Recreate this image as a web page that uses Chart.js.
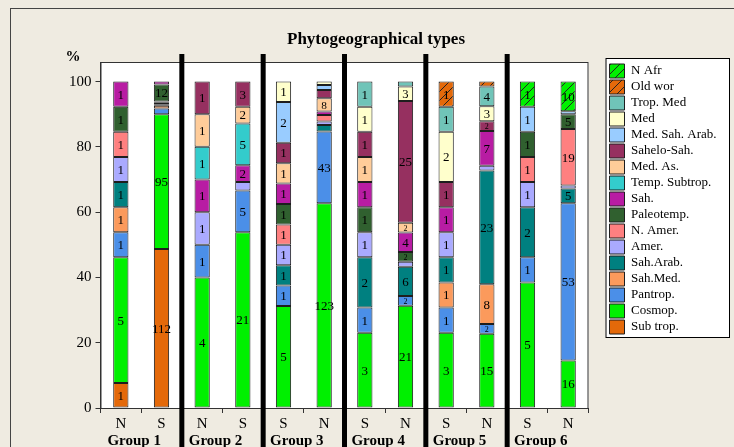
<!DOCTYPE html>
<html>
<head>
<meta charset="utf-8">
<script src="https://cdn.jsdelivr.net/npm/chart.js@4.4.0/dist/chart.umd.min.js"></script>
<style>
  html, body { margin: 0; padding: 0; background: #efebe1; }
</style>
</head>
<body>
<canvas id="myChart" width="734" height="447"></canvas>
<script>
// bar order: G1 N, G1 S, G2 N, G2 S, G3 S, G3 N, G4 S, G4 N, G5 S, G5 N, G6 S, G6 N
const barLabels = ['N', 'S', 'N', 'S', 'S', 'N', 'S', 'N', 'S', 'N', 'S', 'N'];
const groups = ['Group 1', 'Group 2', 'Group 3', 'Group 4', 'Group 5', 'Group 6'];
const yTicks = [0, 20, 40, 60, 80, 100];

// number of species per type (shown inside the segments)
const subTrop     = [1, 112, 0, 0, 0, 0, 0, 0, 0, 0, 0, 0];
const cosmop      = [5, 95, 4, 21, 5, 123, 3, 21, 3, 15, 5, 16];
const pantrop     = [1, 4, 1, 5, 1, 43, 1, 2, 1, 2, 1, 53];
const sahMed      = [1, 2, 0, 0, 0, 0, 0, 0, 1, 8, 0, 0];
const sahArab     = [1, 1, 0, 0, 1, 4, 2, 6, 1, 23, 2, 5];
const amer        = [1, 1, 1, 1, 1, 2, 1, 1, 1, 1, 1, 1];
const nAmer       = [1, 1, 0, 0, 1, 4, 0, 0, 0, 0, 1, 19];
const paleotemp   = [1, 12, 0, 0, 1, 0, 1, 2, 0, 0, 1, 5];
const sah         = [1, 2, 1, 2, 1, 2, 1, 4, 1, 7, 0, 0];
const tempSubtrop = [0, 0, 1, 5, 0, 0, 0, 0, 0, 0, 0, 0];
const medAs       = [0, 0, 1, 2, 1, 8, 1, 2, 0, 0, 0, 0];
const saheloSah   = [0, 0, 1, 3, 1, 5, 1, 25, 1, 2, 0, 0];
const medSahArab  = [0, 0, 0, 0, 2, 3, 0, 0, 0, 0, 1, 1];
const med         = [0, 0, 0, 0, 1, 2, 1, 3, 2, 3, 0, 0];
const tropMed     = [0, 0, 0, 0, 0, 0, 1, 1, 1, 4, 0, 0];
const oldWor      = [0, 0, 0, 0, 0, 0, 0, 0, 1, 1, 0, 0];
const nAfr        = [0, 0, 0, 0, 0, 0, 0, 0, 0, 0, 1, 10];

function hatch(color) {
  const c = document.createElement('canvas');
  c.width = 9; c.height = 9;
  const g = c.getContext('2d');
  g.fillStyle = color;
  g.fillRect(0, 0, 9, 9);
  g.strokeStyle = '#222';
  g.lineWidth = 1;
  g.beginPath();
  g.moveTo(0, 9); g.lineTo(9, 0);
  g.moveTo(-1, 1); g.lineTo(1, -1);
  g.moveTo(8, 10); g.lineTo(10, 8);
  g.stroke();
  return g.createPattern(c, 'repeat');
}

const series = [
  ['Sub trop.', subTrop, '#e4690a'],
  ['Cosmop.', cosmop, '#00f000'],
  ['Pantrop.', pantrop, '#4b8fe8'],
  ['Sah.Med.', sahMed, '#fb9a5c'],
  ['Sah.Arab.', sahArab, '#008080'],
  ['Amer.', amer, '#aaaaff'],
  ['N. Amer.', nAmer, '#ff8080'],
  ['Paleotemp.', paleotemp, '#30602f'],
  ['Sah.', sah, '#b81ca3'],
  ['Temp. Subtrop.', tempSubtrop, '#33cccc'],
  ['Med. As.', medAs, '#ffcc99'],
  ['Sahelo-Sah.', saheloSah, '#963060'],
  ['Med. Sah. Arab.', medSahArab, '#99ccff'],
  ['Med', med, '#ffffcc'],
  ['Trop. Med', tropMed, '#70c4b8'],
  ['Old wor', oldWor, hatch('#e4690a')],
  ['N Afr', nAfr, hatch('#00f000')]
];

const totals = barLabels.map((b, i) => series.reduce((s, d) => s + d[1][i], 0));

const serif = 'Liberation Serif';

const decor = {
  id: 'decor',
  beforeDraw(chart) {
    const {ctx, chartArea: a} = chart;
    ctx.save();
    ctx.fillStyle = '#efebe1';
    ctx.fillRect(0, 0, chart.width, chart.height);
    ctx.strokeStyle = '#444';
    ctx.lineWidth = 1;
    ctx.strokeRect(10.5, 8.5, chart.width + 20, chart.height + 20);
    ctx.fillStyle = '#fff';
    ctx.fillRect(a.left, a.top, a.right - a.left, a.bottom - a.top);
    // legend frame
    const lg = chart.legend;
    const hb = lg.legendHitBoxes;
    const last = hb[hb.length - 1];
    const fx = lg.left - 2, fy = lg.top - 4;
    const fw = 729 - fx, fh = last.top + last.height + 3 - fy;
    ctx.fillRect(fx, fy, fw, fh);
    ctx.strokeStyle = '#000';
    ctx.strokeRect(fx + 0.5, fy + 0.5, fw, fh);
    ctx.restore();
  },
  afterDatasetsDraw(chart) {
    const {ctx, chartArea: a, scales: {x}} = chart;
    ctx.save();
    // counts inside segments
    ctx.fillStyle = '#000';
    ctx.textAlign = 'center';
    ctx.textBaseline = 'middle';
    series.forEach((s, d) => {
      chart.getDatasetMeta(d).data.forEach((el, i) => {
        const n = s[1][i];
        if (!n) return;
        const h = el.base - el.y;
        if (h < 9) return;
        const size = Math.min(13, Math.max(8, h - 2));
        ctx.font = size + 'px "' + serif + '"';
        ctx.fillText(String(n), el.x, (el.y + el.base) / 2 + 1);
      });
    });
    // plot frame
    ctx.strokeStyle = '#333';
    ctx.lineWidth = 1;
    ctx.strokeRect(a.left + 0.5, a.top + 0.5, a.right - a.left - 1, a.bottom - a.top);
    // thick group separators
    ctx.fillStyle = '#000';
    for (let i = 1; i < barLabels.length - 1; i += 2) {
      const sx = (x.getPixelForValue(i) + x.getPixelForValue(i + 1)) / 2;
      ctx.fillRect(sx - 2.5, 54, 5, chart.height - 54);
    }
    // title, unit, group names
    ctx.font = 'bold 17px "' + serif + '"';
    ctx.fillText('Phytogeographical types', 376, 40);
    ctx.font = 'bold 15px "' + serif + '"';
    ctx.fillText('%', 73, 57);
    groups.forEach((g, k) => {
      const gx = (x.getPixelForValue(2 * k) + x.getPixelForValue(2 * k + 1)) / 2 - 7;
      ctx.fillText(g, gx, 441);
    });
    ctx.restore();
  }
};

const ctx = document.getElementById('myChart');

new Chart(ctx, {
  type: 'bar',
  data: {
    labels: barLabels,
    datasets: series.map(s => ({
      label: s[0],
      data: s[1].map((v, i) => v ? v / totals[i] * 100 : null),
      backgroundColor: s[2],
      borderColor: '#1e1e1e',
      borderWidth: 1,
      borderSkipped: false,
      barPercentage: 0.375,
      categoryPercentage: 1
    }))
  },
  options: {
    responsive: false,
    animation: false,
    layout: { padding: { left: 65, top: 62, bottom: 12, right: 18 } },
    plugins: {
      title: { display: false },
      tooltip: { enabled: false },
      legend: {
        position: 'right',
        align: 'start',
        reverse: true,
        labels: {
          boxWidth: 15,
          boxHeight: 14,
          padding: 2,
          color: '#000',
          font: { family: serif, size: 13 }
        }
      }
    },
    scales: {
      x: {
        stacked: true,
        grid: { drawOnChartArea: false, tickLength: 5, color: '#333' },
        border: { color: '#333' },
        ticks: { color: '#000', font: { family: serif, size: 15 }, padding: 2 }
      },
      y: {
        stacked: true,
        min: 0,
        max: 106,
        grid: { drawOnChartArea: false, tickLength: 5, color: '#333' },
        border: { color: '#333' },
        ticks: { stepSize: 20, color: '#000', font: { family: serif, size: 15 }, padding: 4 },
        afterBuildTicks(s) { s.ticks = yTicks.map(v => ({ value: v })); }
      },
      pad: {
        position: 'right',
        grid: { display: false },
        border: { display: false },
        ticks: { display: false },
        afterFit(s) { s.width = 19; }
      }
    }
  },
  plugins: [decor]
});
</script>
</body>
</html>
